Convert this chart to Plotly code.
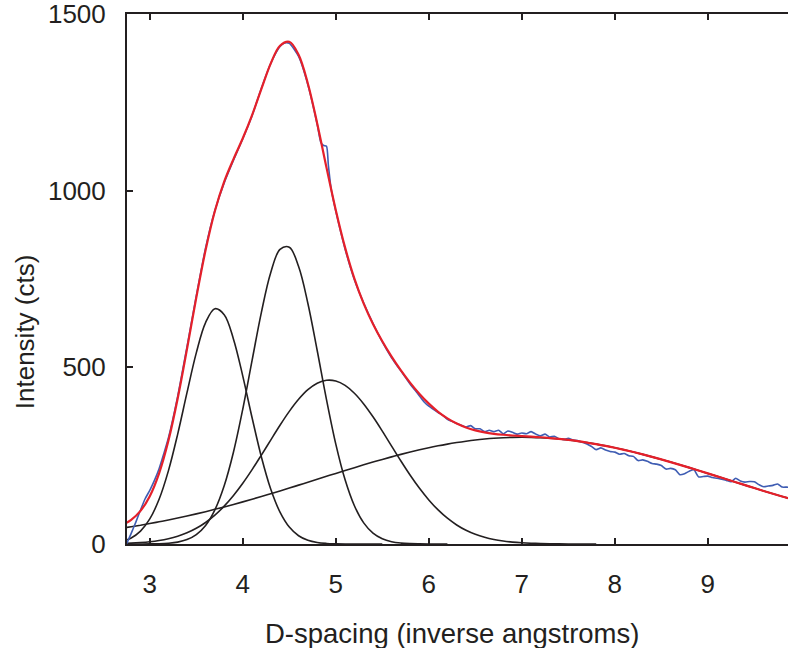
import plotly.graph_objects as go

# ---- data ----
x_grid = [2.7, 2.8, 2.9, 3.0, 3.1, 3.2, 3.3, 3.4, 3.5, 3.6, 3.7, 3.8, 3.9,
          4.0, 4.1, 4.2, 4.3, 4.4, 4.5, 4.6, 4.7, 4.8, 4.9, 5.0, 5.1, 5.2,
          5.3, 5.4, 5.5, 5.6, 5.7, 5.8, 5.9, 6.0, 6.1, 6.2, 6.3, 6.4, 6.5,
          6.6, 6.7, 6.8, 6.9, 7.0, 7.1, 7.2, 7.3, 7.4, 7.5, 7.6, 7.7, 7.8,
          7.9, 8.0, 8.1, 8.2, 8.3, 8.4, 8.5, 8.6, 8.7, 8.8, 8.9, 9.0, 9.1,
          9.2, 9.3, 9.4, 9.5, 9.6, 9.7, 9.8, 9.9]

# fitted total (red)
fit_y = [53.6, 68.4, 93.8, 135.4, 200.0, 292.1, 411.8, 551.6, 697.2, 831.7,
         942.3, 1025.6, 1089.4, 1148.2, 1213.9, 1288.0, 1359.7, 1410.3,
         1421.5, 1384.6, 1302.8, 1190.2, 1065.2, 944.6, 838.8, 751.1, 680.4,
         622.6, 573.6, 530.2, 491.1, 455.9, 424.5, 397.2, 374.2, 355.6, 340.9,
         329.8, 321.7, 315.9, 311.9, 309.2, 307.1, 305.4, 303.8, 302.1, 299.9,
         297.4, 294.5, 291.1, 287.1, 282.7, 277.8, 272.4, 266.5, 260.3, 253.6,
         246.6, 239.4, 231.8, 224.1, 216.1, 208.0, 199.8, 191.5, 183.2, 174.9,
         166.6, 158.3, 150.2, 142.2, 134.4, 126.7]

# component peaks (black)
peak1_y = [7.4, 17.1, 36.4, 70.9, 126.5, 207.0, 311.0, 428.3, 541.0, 626.7,
           665.8, 648.8, 579.8, 475.2, 357.2, 246.3, 155.7, 90.3, 48.0, 23.4,
           10.5, 4.3, 1.6, 0.6, 0.2, 0.1, 0.0, 0.0, 0.0]
peak2_y = [0.0, 0.0, 0.1, 0.3, 0.8, 2.2, 5.4, 12.5, 26.6, 52.6, 96.7, 164.8,
           260.4, 381.9, 519.6, 655.6, 767.6, 833.7, 839.9, 785.1, 680.7,
           547.6, 408.6, 282.8, 181.7, 108.2, 59.8, 30.7, 14.6, 6.4, 2.6, 1.0,
           0.4, 0.1, 0.0, 0.0]
peak3_y = [1.5, 2.5, 4.1, 6.4, 9.9, 15.0, 22.0, 31.6, 44.4, 60.9, 81.7, 107.1,
           137.3, 171.9, 210.4, 251.7, 294.2, 336.1, 375.3, 409.5, 436.7,
           455.1, 463.5, 461.4, 448.9, 426.7, 396.5, 360.1, 319.6, 277.2, 234.9,
           194.6, 157.6, 124.7, 96.4, 72.9, 53.8, 38.8, 27.4, 18.9, 12.7, 8.4,
           5.4, 3.4, 2.1, 1.3, 0.7, 0.4, 0.2, 0.1, 0.0, 0.0]
peak4_y = [44.7, 48.8, 53.2, 57.8, 62.8, 67.9, 73.4, 79.2, 85.2, 91.5, 98.1,
           104.9, 111.9, 119.2, 126.7, 134.4, 142.2, 150.2, 158.3, 166.6, 174.9,
           183.2, 191.5, 199.8, 208.0, 216.1, 224.1, 231.8, 239.4, 246.6, 253.6,
           260.3, 266.5, 272.4, 277.8, 282.7, 287.1, 291.0, 294.3, 297.0, 299.2,
           300.8, 301.7, 302.0, 301.7, 300.8, 299.2, 297.0, 294.3, 291.0, 287.1,
           282.7, 277.8, 272.4, 266.5, 260.3, 253.6, 246.6, 239.4, 231.8, 224.1,
           216.1, 208.0, 199.8, 191.5, 183.2, 174.9, 166.6, 158.3, 150.2, 142.2,
           134.4, 126.7]

# measured data (blue)
data_x = [2.75, 2.80, 2.85, 2.90, 2.95, 3.00, 3.05, 3.10, 3.15, 3.20, 3.30,
          3.40, 3.50, 3.60, 3.70, 3.80, 3.90, 4.00, 4.10, 4.20, 4.30, 4.40,
          4.45, 4.50, 4.60, 4.70, 4.80, 4.84, 4.87, 4.90, 4.92, 4.95, 5.00,
          5.10, 5.20, 5.30, 5.40, 5.50, 5.60, 5.65,
          5.70, 5.75, 5.80, 5.85, 5.90, 5.95, 6.00, 6.05, 6.10, 6.15, 6.20,
          6.25, 6.30, 6.35, 6.40, 6.45, 6.50, 6.55, 6.60, 6.65, 6.70, 6.75,
          6.80, 6.85, 6.90, 6.95, 7.00, 7.05, 7.10, 7.15, 7.20, 7.25, 7.30,
          7.35, 7.40, 7.45, 7.50, 7.55, 7.60, 7.65, 7.70, 7.75, 7.80, 7.85,
          7.90, 7.95, 8.00, 8.05, 8.10, 8.15, 8.20, 8.25, 8.30, 8.35, 8.40,
          8.45, 8.50, 8.55, 8.60, 8.65, 8.70, 8.75, 8.80, 8.85, 8.90, 8.95,
          9.00, 9.05, 9.10, 9.15, 9.20, 9.25, 9.30, 9.35, 9.40, 9.45, 9.50,
          9.55, 9.60, 9.65, 9.70, 9.75, 9.80, 9.85, 9.90]
data_y = [0, 30, 62, 96, 128, 152, 180, 213, 255, 300, 418,
          558, 702, 838, 944, 1022, 1086, 1147, 1212, 1290, 1360, 1408,
          1418, 1417, 1380, 1300, 1188, 1136, 1128, 1126, 1072, 1005, 942,
          835, 748, 682, 624, 572, 527, 508,
          490, 471, 452, 436, 419, 402, 390, 381, 372, 364, 353,
          347, 341, 336, 331, 335, 326, 326, 318, 322, 318, 322,
          312, 320, 316, 311, 314, 312, 318, 311, 306, 311, 303,
          305, 298, 296, 299, 294, 293, 288, 283, 276, 267, 272,
          266, 262, 260, 254, 256, 250, 248, 236, 238, 234, 228,
          226, 222, 212, 214, 210, 196, 199, 206, 210, 190, 191,
          192, 188, 186, 183, 180, 176, 186, 178, 175, 177, 176,
          168, 162, 164, 166, 170, 161, 161, 160]

x_ticks = [3, 4, 5, 6, 7, 8, 9]
y_ticks = [0, 500, 1000, 1500]
x_title = "D-spacing (inverse angstroms)"
y_title = "Intensity (cts)"

# ---- style ----
INK = "#231f20"
RED = "#e5202a"
BLUE = "#3f5db3"
FONT = "Liberation Sans, Arial, Helvetica, sans-serif"

fig = go.Figure()
for py in (peak1_y, peak2_y, peak3_y, peak4_y):
    fig.add_trace(go.Scatter(x=x_grid[:len(py)], y=py, mode="lines",
                             line=dict(color=INK, width=1.6, shape="spline"),
                             hoverinfo="skip", showlegend=False))
fig.add_trace(go.Scatter(x=data_x, y=data_y, mode="lines",
                         line=dict(color=BLUE, width=1.6, shape="spline", smoothing=0.6),
                         showlegend=False))
fig.add_trace(go.Scatter(x=x_grid, y=fit_y, mode="lines",
                         line=dict(color=RED, width=2.2, shape="spline"),
                         showlegend=False))

axis_common = dict(showgrid=False, zeroline=False, showline=True, linewidth=2,
                   linecolor=INK, ticks="inside", ticklen=6, tickwidth=1.5,
                   tickcolor=INK, ticklabeloverflow="allow",
                   tickfont=dict(family=FONT, size=26, color=INK))
fig.update_xaxes(range=[2.755, 9.862], tickvals=x_ticks,
                 ticktext=[str(v) for v in x_ticks], mirror="ticks",
                 ticklabelstandoff=16, **axis_common)
fig.update_yaxes(range=[0, 1500], tickvals=y_ticks,
                 ticktext=[str(v) for v in y_ticks], mirror=False,
                 ticklabelstandoff=14, **axis_common)

fig.update_layout(
    width=788, height=648,
    margin=dict(l=127, r=0, t=14, b=104, pad=0),
    paper_bgcolor="white", plot_bgcolor="white",
    font=dict(family=FONT, size=26, color=INK),
    annotations=[
        dict(text=x_title, xref="paper", yref="paper", x=0.491, y=-0.168,
             xanchor="center", yanchor="middle", showarrow=False,
             font=dict(family=FONT, size=27.5, color=INK)),
        dict(text=y_title, xref="paper", yref="paper", x=-0.154, y=0.40,
             xanchor="center", yanchor="middle", textangle=-90, showarrow=False,
             font=dict(family=FONT, size=26, color=INK)),
    ],
)

fig.write_html("out.html", config={"displayModeBar": False},
               post_script="document.body.style.margin='0';"
                           "document.body.style.overflow='hidden';")
